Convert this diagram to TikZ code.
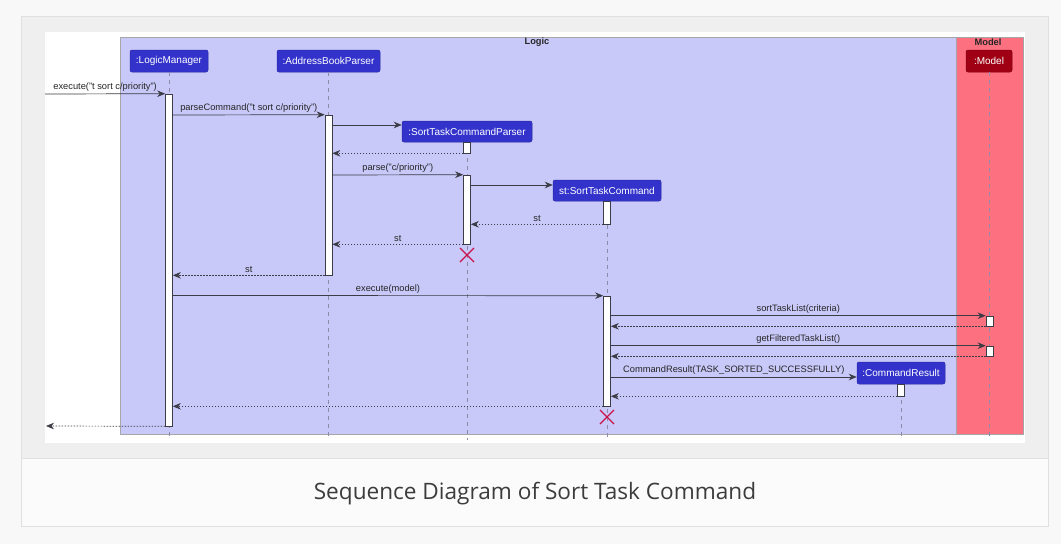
\documentclass[tikz,border=0pt]{standalone}
\usepackage{fontspec}
\setmainfont{Liberation Sans}
\newfontfamily\capfont{Open Sans}
\usetikzlibrary{arrows.meta,calc}
\definecolor{pagebg}{RGB}{248,248,248}
\definecolor{cardbg}{RGB}{239,239,239}
\definecolor{capbg}{RGB}{251,251,251}
\definecolor{cardline}{RGB}{224,224,224}
\definecolor{logicfill}{RGB}{200,200,249}
\definecolor{modelfill}{RGB}{253,112,128}
\definecolor{partblue}{RGB}{51,51,204}
\definecolor{partred}{RGB}{160,0,20}
\definecolor{lifegray}{RGB}{140,140,170}
\definecolor{msgcol}{RGB}{60,60,70}
\definecolor{xred}{RGB}{200,20,75}
\definecolor{captext}{RGB}{60,60,60}
\tikzset{
  part/.style={draw=partblue!80!black, fill=partblue, rounded corners=2pt, text=white, font=\fontsize{10}{12}\selectfont, minimum height=22pt, inner xsep=1pt, inner ysep=0pt, line width=0.5pt},
  partm/.style={part, fill=partred, draw=partred!80!black},
  act/.style={draw=msgcol, fill=white, minimum width=7pt, inner sep=0pt, line width=0.6pt},
  life/.style={draw=lifegray, dash pattern=on 4pt off 4pt, line width=0.8pt},
  msg/.style={draw=msgcol, line width=0.7pt, -{Stealth[length=8pt,width=6.5pt,inset=2.5pt]}},
  ret/.style={msg, dash pattern=on 1.5pt off 1.5pt},
  lbl/.style={font=\fontsize{9.3}{11}\selectfont, text=black!85, inner sep=0pt, above=2pt},
  grp/.style={font=\bfseries\fontsize{9.3}{10}\selectfont, text=black!85},
  xmark/.style={draw=xred, line width=1.1pt}
}
\begin{document}
\begin{tikzpicture}[x=1pt,y=-1pt]
\useasboundingbox (0,0) rectangle (1061,544);
% background and card
\fill[pagebg] (0,0) rectangle (1061,544);
\fill[cardbg] (21,16) rectangle (1048,458);
\fill[capbg] (21,458) rectangle (1048,526);
\draw[cardline, line width=1pt] (21,16) rectangle (1048,526);
\draw[cardline, line width=1pt] (21,458) -- (1048,458);
\fill[white] (45,32) rectangle (1025,443);
% group boxes
\draw[fill=logicfill, draw=black!35, line width=0.6pt] (120,37) rectangle (956,434);
\draw[fill=modelfill, draw=black!35, line width=0.6pt] (956,37) rectangle (1023,434);
\node[grp] (glogic) at (537,42.5) {Logic};
\node[grp] (gmodel) at (988,42.5) {Model};
% participants
\node[part, minimum width=78pt] (lm) at (169,61) {:LogicManager};
\node[part, minimum width=103pt] (abp) at (328.5,61) {:AddressBookParser};
\node[part, minimum width=130pt, minimum height=21pt] (stcp) at (467,131.5) {:SortTaskCommandParser};
\node[part, minimum width=108pt, minimum height=21pt] (stc) at (607,190.5) {st:SortTaskCommand};
\node[part, minimum width=88pt] (cr) at (901,373) {:CommandResult};
\node[partm, minimum width=46pt] (model) at (989,61) {:Model};
% lifelines
\coordinate (bot) at (0,440);
\draw[life] (lm.south) -- (lm.south |- bot);
\draw[life] (abp.south) -- (abp.south |- bot);
\draw[life] (stcp.south) -- (stcp.south |- bot);
\draw[life] (stc.south) -- (stc.south |- bot);
\draw[life] (cr.south) -- (cr.south |- bot);
\draw[life] (model.south) -- (model.south |- bot);
% activation bars
\node[act, minimum height=332pt] (lm1) at (169,260) {};
\node[act, minimum height=160pt] (abp1) at (328.5,195) {};
\node[act, minimum height=11pt] (stcp1) at (467,147.5) {};
\node[act, minimum height=69pt] (stcp2) at (467,209.5) {};
\node[act, minimum height=23pt] (stc1) at (607,212.5) {};
\node[act, minimum height=110pt] (stc2) at (607,351) {};
\node[act, minimum height=10pt] (m1) at (989.5,321) {};
\node[act, minimum height=10pt] (m2) at (989.5,351) {};
\node[act, minimum height=12pt] (cr1) at (901,390) {};
% free ends
\coordinate (in) at (45,94);
\coordinate (out) at (46,426);
% messages
\draw[msg] (in) -- (lm1.north west) node[lbl, midway] {execute("t sort c/priority")};
\draw[msg] (lm1.east |- 0,115) -- (abp1.north west) node[lbl, midway] {parseCommand("t sort c/priority")};
\draw[msg] (abp1.east |- 0,125) -- (stcp.west |- 0,125);
\draw[ret] (stcp1.south west) -- (abp1.east |- stcp1.south);
\draw[msg] (abp1.east |- 0,175) -- (stcp2.north west) node[lbl, midway] {parse("c/priority")};
\draw[msg] (stcp2.east |- 0,185) -- (stc.west |- 0,185);
\draw[ret] (stc1.south west) -- (stcp2.east |- stc1.south) node[lbl, midway] {st};
\draw[ret] (stcp2.south west) -- (abp1.east |- stcp2.south) node[lbl, midway] {st};
\draw[ret] (abp1.south west) -- (lm1.east |- abp1.south) node[lbl, midway] {st};
\draw[msg] (lm1.east |- 0,295.5) -- (stc2.north west) node[lbl, midway] {execute(model)};
\draw[msg] (stc2.east |- m1.north) -- (m1.north west) node[lbl, midway] {sortTaskList(criteria)};
\draw[ret] (m1.south west) -- (stc2.east |- m1.south);
\draw[msg] (stc2.east |- m2.north) -- (m2.north west) node[lbl, midway] {getFilteredTaskList()};
\draw[ret] (m2.south west) -- (stc2.east |- m2.south);
\draw[msg] (stc2.east |- 0,377) -- (cr.west |- 0,377) node[lbl, midway] {CommandResult(TASK\_SORTED\_SUCCESSFULLY)};
\draw[ret] (cr1.south west) -- (stc2.east |- cr1.south);
\draw[ret] (stc2.south west) -- (lm1.east |- stc2.south);
\draw[ret] (lm1.south west) -- (out);
% destruction marks
\coordinate (x1) at (467,255);
\coordinate (x2) at (607,417);
\draw[xmark] ($(x1)+(-7,-7)$) -- ($(x1)+(7,7)$) ($(x1)+(-7,7)$) -- ($(x1)+(7,-7)$);
\draw[xmark] ($(x2)+(-7,-7)$) -- ($(x2)+(7,7)$) ($(x2)+(-7,7)$) -- ($(x2)+(7,-7)$);
% caption
\node[font=\capfont\fontsize{22.6}{26}\selectfont, text=captext] (cap) at (535,493.5) {Sequence Diagram of Sort Task Command};
\end{tikzpicture}
\end{document}
